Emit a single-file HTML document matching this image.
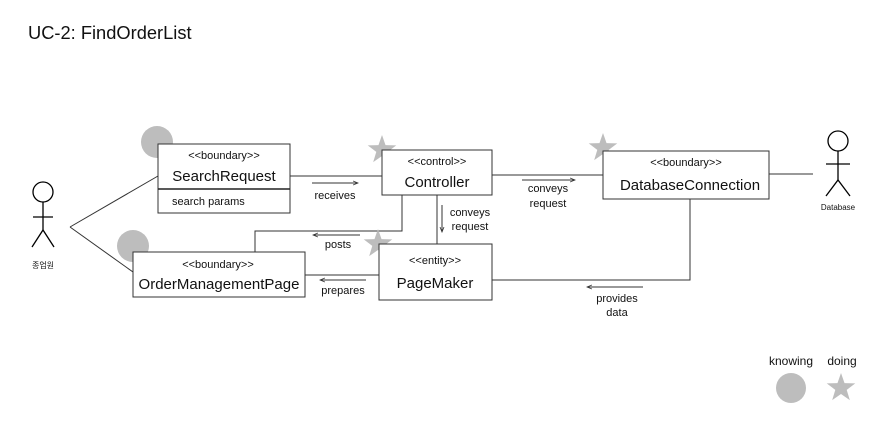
<!DOCTYPE html>
<html><head><meta charset="utf-8"><style>
html,body{margin:0;padding:0;background:#fff;}
svg{display:block;font-family:"Liberation Sans","Noto Sans CJK KR",sans-serif;}
</style></head><body>
<svg width="881" height="422" viewBox="0 0 881 422" xmlns="http://www.w3.org/2000/svg">
<defs>
<polygon id="st" fill="#bdbdbd" points="0,-15 3.53,-4.85 14.27,-4.64 5.71,1.85 8.82,12.14 0,6 -8.82,12.14 -5.71,1.85 -14.27,-4.64 -3.53,-4.85"/>
<marker id="ah" markerWidth="6" markerHeight="6" refX="5" refY="3" orient="auto"><path d="M0,1 L5,3 L0,5" fill="none" stroke="#333" stroke-width="0.8"/></marker>
</defs>
<text x="28" y="39" font-size="18.3" fill="#111">UC-2: FindOrderList</text>

<g stroke="#333" stroke-width="1" fill="none">
<line x1="70" y1="227" x2="158" y2="176"/>
<line x1="70" y1="227" x2="133" y2="272"/>
<line x1="290" y1="176" x2="382" y2="176"/>
<line x1="492" y1="175" x2="603" y2="175"/>
<line x1="769" y1="174" x2="813" y2="174"/>
<line x1="437" y1="195" x2="437" y2="244"/>
<polyline points="402,195 402,231 255,231 255,252"/>
<line x1="305" y1="275" x2="379" y2="275"/>
<polyline points="492,280 690,280 690,199"/>
<line x1="312" y1="183" x2="358" y2="183" marker-end="url(#ah)"/>
<line x1="522" y1="180" x2="575" y2="180" marker-end="url(#ah)"/>
<line x1="442" y1="205" x2="442" y2="232" marker-end="url(#ah)"/>
<line x1="360" y1="235" x2="313" y2="235" marker-end="url(#ah)"/>
<line x1="366" y1="280" x2="320" y2="280" marker-end="url(#ah)"/>
<line x1="643" y1="287" x2="587" y2="287" marker-end="url(#ah)"/>
</g>

<circle cx="157" cy="142" r="16" fill="#bdbdbd"/>
<circle cx="133" cy="246" r="16" fill="#bdbdbd"/>
<use href="#st" x="382" y="150"/>
<use href="#st" x="603" y="148"/>
<use href="#st" x="378" y="244"/>

<g stroke="#333" stroke-width="1" fill="#fff">
<rect x="158" y="144" width="132" height="69"/>
<rect x="382" y="150" width="110" height="45"/>
<rect x="603" y="151" width="166" height="48"/>
<rect x="379" y="244" width="113" height="56"/>
<rect x="133" y="252" width="172" height="45"/>
</g>
<line x1="158" y1="189" x2="290" y2="189" stroke="#222" stroke-width="1.5"/>

<g fill="#111" text-anchor="middle">
<text x="224" y="159" font-size="11">&lt;&lt;boundary&gt;&gt;</text>
<text x="224" y="181" font-size="15">SearchRequest</text>
<text x="172" y="205" font-size="11" text-anchor="start">search params</text>
<text x="437" y="165" font-size="11">&lt;&lt;control&gt;&gt;</text>
<text x="437" y="187" font-size="15">Controller</text>
<text x="686" y="166" font-size="11">&lt;&lt;boundary&gt;&gt;</text>
<text x="690" y="190" font-size="15">DatabaseConnection</text>
<text x="435" y="264" font-size="11">&lt;&lt;entity&gt;&gt;</text>
<text x="435" y="288" font-size="15">PageMaker</text>
<text x="218" y="268" font-size="11">&lt;&lt;boundary&gt;&gt;</text>
<text x="219" y="289" font-size="15">OrderManagementPage</text>

<text x="335" y="199" font-size="11">receives</text>
<text x="548" y="192" font-size="11">conveys</text>
<text x="548" y="207" font-size="11">request</text>
<text x="470" y="216" font-size="11">conveys</text>
<text x="470" y="230" font-size="11">request</text>
<text x="338" y="248" font-size="11">posts</text>
<text x="343" y="294" font-size="11">prepares</text>
<text x="617" y="302" font-size="11">provides</text>
<text x="617" y="316" font-size="11">data</text>

<text x="43" y="268" font-size="8">종업원</text>
<text x="838" y="210" font-size="8">Database</text>
<text x="791" y="365" font-size="12">knowing</text>
<text x="842" y="365" font-size="12">doing</text>
</g>

<g stroke="#000" stroke-width="1.3" fill="none">
<circle cx="43" cy="192" r="10"/>
<line x1="43" y1="202" x2="43" y2="230"/>
<line x1="33" y1="217" x2="53" y2="217"/>
<polyline points="32,247 43,230 54,247"/>
<circle cx="838" cy="141" r="10"/>
<line x1="838" y1="151" x2="838" y2="180"/>
<line x1="826" y1="164" x2="850" y2="164"/>
<polyline points="826,196 838,180 850,196"/>
</g>

<circle cx="791" cy="388" r="15" fill="#bdbdbd"/>
<use href="#st" x="841" y="388"/>
</svg>
</body></html>
